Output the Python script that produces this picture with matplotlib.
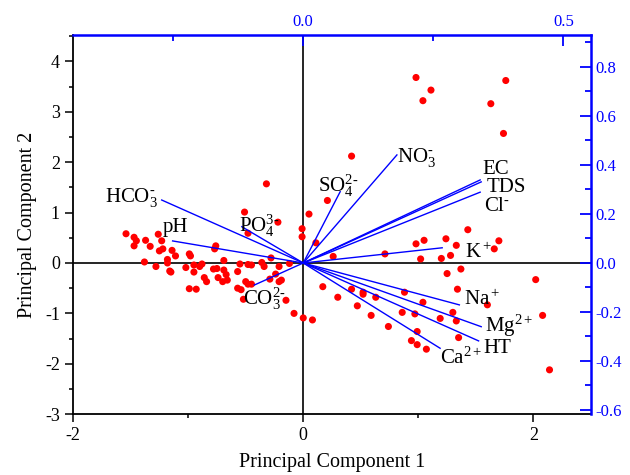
import matplotlib
matplotlib.use("Agg")
import matplotlib.pyplot as plt
import numpy as np
from matplotlib.ticker import MultipleLocator, FixedLocator

plt.rcParams["font.family"] = ["Liberation Serif", "DejaVu Serif"]
plt.rcParams["mathtext.fontset"] = "custom"
plt.rcParams["mathtext.rm"] = "Liberation Serif"
plt.rcParams["mathtext.it"] = "Liberation Serif:italic"
plt.rcParams["axes.unicode_minus"] = False

BLUE = "#0000FF"
RED = "#FF0000"

# sample scores (PC1, PC2)
pc1 = [-1.54, -1.47, -1.45, -1.47, -1.37, -1.33, -1.26, -1.23, -1.22, -1.25,
       -1.14, -1.11, -0.99, -0.98, -1.38, -1.28, -1.18, -1.18, -1.16, -1.15,
       -1.02, -0.95, -0.95, -0.90, -0.88, -0.86, -0.84, -0.99, -0.93, -0.76,
       -0.77, -0.78, -0.75, -0.74, -0.69, -0.69, -0.67, -0.66, -0.70, -0.55,
       -0.57, -0.48, -0.48, -0.45, -0.50, -0.48, -0.45, -0.57, -0.54, -0.52,
       -0.36, -0.28, -0.34, -0.29, -0.24, -0.21, -0.21, -0.19, -0.12, -0.15,
       -0.08, 0.00, 0.08, -0.32, -0.51, -0.22, -0.01, -0.01, 0.05, 0.11,
       0.42, 0.21, 0.26, 0.71, 0.17, 0.30, 0.42, 0.52, 0.52, 0.63,
       0.47, 0.59, 0.74, 0.88, 1.04, 0.86, 0.97, 1.19, 0.99, 0.94,
       0.99, 1.07, 1.25, 1.37, 1.34, 1.30, 1.33, 1.35, 1.60, 2.02,
       2.08, 2.14, 0.98, 1.05, 1.24, 1.33, 1.43, 1.70, 1.66, 1.02,
       1.20, 1.28, 0.98, 1.11, 1.04, 1.63, 1.76, 1.74]
pc2 = [0.58, 0.51, 0.44, 0.34, 0.45, 0.33, 0.57, 0.44, 0.28, 0.24,
       0.25, 0.14, 0.18, 0.14, 0.02, -0.07, 0.07, 0.00, -0.16, -0.18,
       -0.09, -0.04, -0.18, -0.07, -0.02, -0.29, -0.37, -0.51, -0.52, 0.34,
       0.28, -0.12, -0.11, -0.29, 0.05, -0.14, -0.23, -0.34, -0.37, -0.02,
       -0.17, 0.59, -0.03, -0.04, -0.37, -0.42, -0.42, -0.50, -0.53, -0.72,
       0.01, 0.10, -0.07, -0.32, -0.22, -0.07, -0.37, -0.34, -0.01, -0.74,
       -1.00, -1.09, -1.13, 1.57, 1.01, 0.81, 0.68, 0.52, 0.97, 0.40,
       2.12, 1.24, 0.13, 0.18, -0.47, -0.68, -0.52, -0.58, -0.62, -0.68,
       -0.85, -1.04, -1.26, -0.58, -0.78, -0.98, -1.01, -1.10, -1.36, -1.54,
       -1.62, -1.71, -0.21, -0.12, -0.52, -0.98, -1.15, -1.48, -0.83, -0.33,
       -1.04, -2.12, 0.38, 0.45, 0.48, 0.35, 0.66, 0.44, 0.28, 0.08,
       0.09, 0.15, 3.68, 3.43, 3.22, 3.16, 3.62, 2.57]

# variable loadings (PC1, PC2)
variables = [r"HCO$_3^{\text{-}}$", "pH", r"PO$_4^{\text{3-}}$", r"CO$_3^{\text{2-}}$",
             r"SO$_4^{\text{2-}}$", r"NO$_3^{\text{-}}$", "EC", "TDS", r"Cl$^{\text{-}}$",
             r"K$^+$", r"Na$^+$", r"Mg$^{2+}$", "HT", r"Ca$^{2+}$"]
load1 = [-0.272, -0.251, -0.118, -0.094, 0.071, 0.180, 0.340, 0.342, 0.340,
         0.267, 0.300, 0.342, 0.337, 0.263]
load2 = [0.257, 0.090, 0.148, -0.090, 0.291, 0.441, 0.339, 0.331, 0.289,
         0.062, -0.171, -0.260, -0.318, -0.348]

# where each variable name sits (loading coordinates, text baseline)
label_xy = [(-0.381, 0.250), (-0.270, 0.125), (-0.124, 0.128), (-0.116, -0.171),
            (0.029, 0.291), (0.181, 0.413), (0.344, 0.363), (0.353, 0.291),
            (0.347, 0.212), (0.310, 0.019), (0.308, -0.171), (0.350, -0.280),
            (0.347, -0.366), (0.262, -0.410)]

fig = plt.figure(figsize=(6.3, 4.75), dpi=100)
rect = [0.116, 0.128, 0.822, 0.798]
ax = fig.add_axes(rect)

ax.scatter(pc1, pc2, s=26, color=RED, edgecolors="none", zorder=3)
ax.axhline(0, color="black", lw=1.2, zorder=1)
ax.axvline(0, color="black", lw=1.2, zorder=1)

ax.set_xlim(-2, 2.5)
ax.set_ylim(-3, 4.52)
ax.xaxis.set_major_locator(FixedLocator([-2, 0, 2]))
ax.xaxis.set_minor_locator(FixedLocator([-1, 1]))
ax.yaxis.set_major_locator(MultipleLocator(1))
ax.yaxis.set_minor_locator(MultipleLocator(0.5))
ax.tick_params(which="both", direction="out", labelsize=13, width=1.1)
ax.tick_params(which="major", length=6)
ax.tick_params(which="minor", length=3)
ax.spines["top"].set_visible(False)
ax.spines["right"].set_visible(False)
for s in ("left", "bottom"):
    ax.spines[s].set_linewidth(1.3)
ax.set_xlabel("Principal Component 1", fontsize=14.5, labelpad=6)
ax.set_ylabel("Principal Component 2", fontsize=14.5, labelpad=6)

# loadings axes on top/right
ax2 = fig.add_axes(rect)
ax2.patch.set_visible(False)
ax2.set_xlim(-2 / 4.522, 2.5 / 4.522)
ax2.set_ylim(-3 / 4.861, 4.52 / 4.861)
ax2.xaxis.tick_top()
ax2.yaxis.tick_right()
ax2.xaxis.set_major_locator(MultipleLocator(0.5))
ax2.xaxis.set_minor_locator(MultipleLocator(0.25))
ax2.yaxis.set_major_locator(MultipleLocator(0.2))
ax2.yaxis.set_minor_locator(MultipleLocator(0.1))
ax2.xaxis.set_major_formatter("{x:.1f}")
ax2.yaxis.set_major_formatter("{x:.1f}")
ax2.tick_params(which="both", direction="in", colors=BLUE, labelsize=12, width=1.3)
ax2.tick_params(which="major", length=8)
ax2.tick_params(which="minor", length=4)
ax2.spines["left"].set_visible(False)
ax2.spines["bottom"].set_visible(False)
for s in ("top", "right"):
    ax2.spines[s].set_color(BLUE)
    ax2.spines[s].set_linewidth(1.8)

for name, lx, ly, (tx, ty) in zip(variables, load1, load2, label_xy):
    ax2.plot([0, lx], [0, ly], color=BLUE, lw=1.0, zorder=2)
    ax2.text(tx, ty, name, fontsize=15, ha="left", va="baseline", color="black")

fig.savefig("out.png", dpi=100, facecolor="white")
